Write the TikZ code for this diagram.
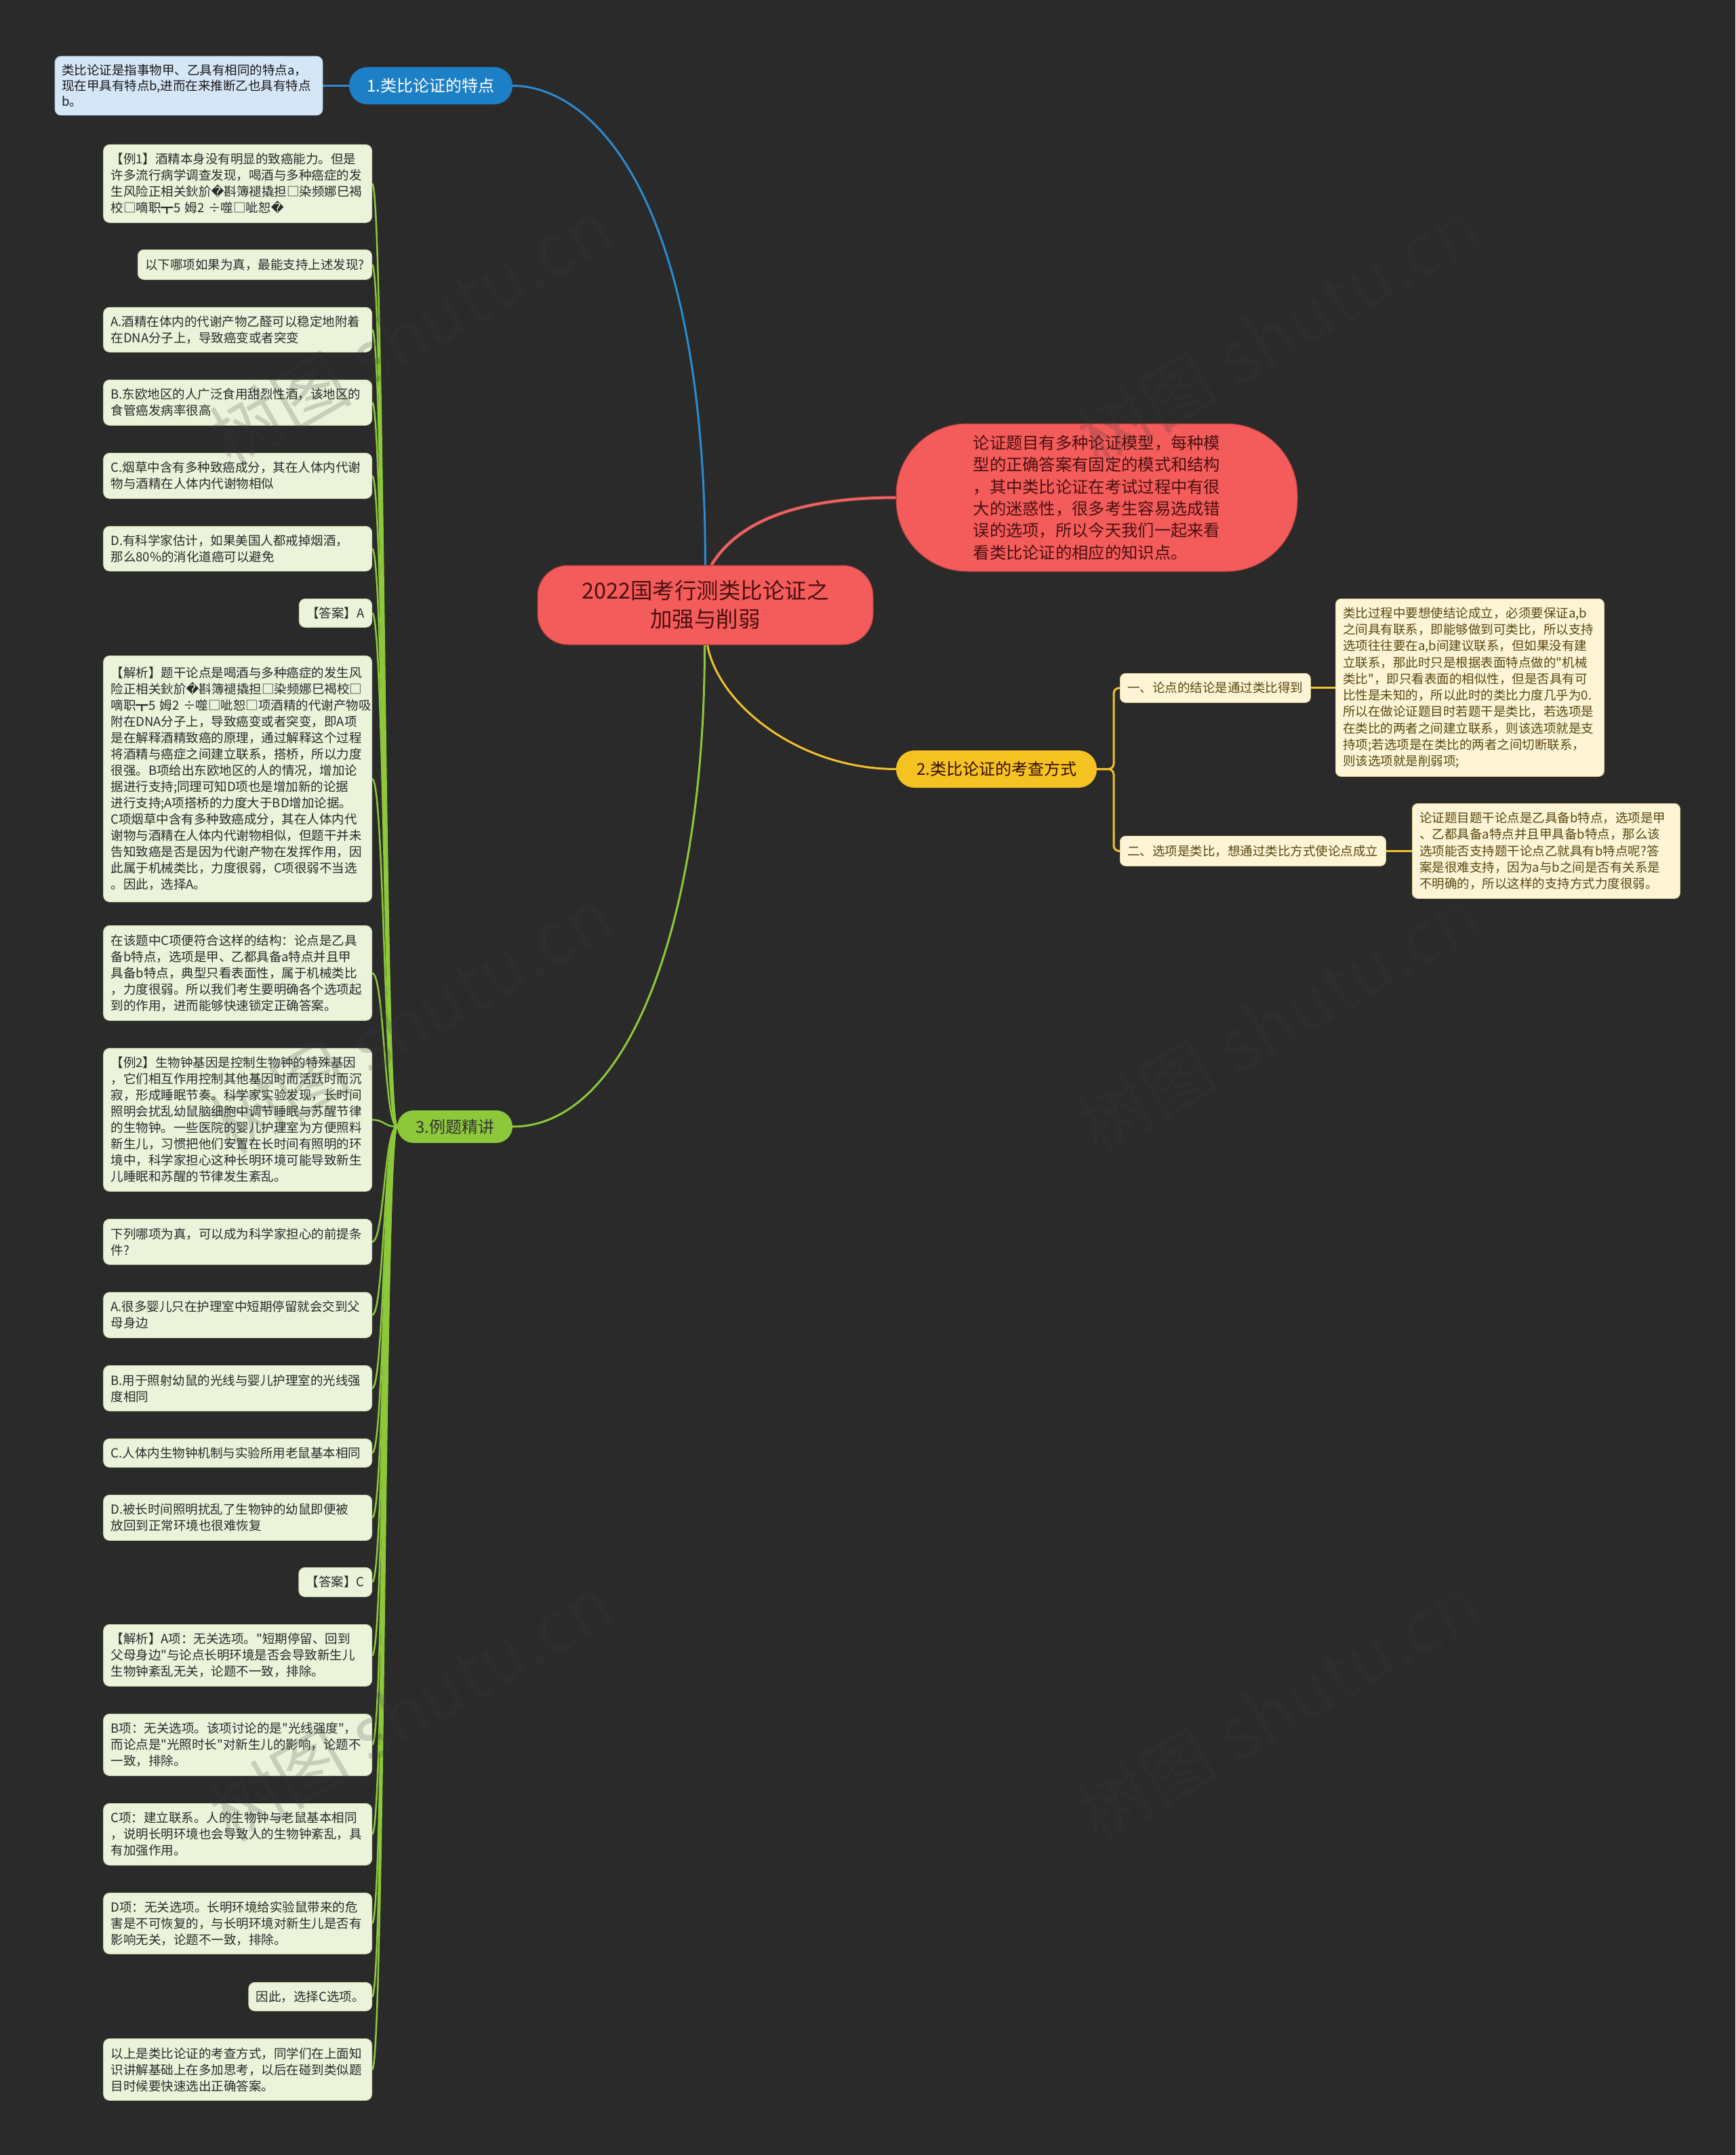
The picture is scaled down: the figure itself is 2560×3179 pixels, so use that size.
\documentclass[tikz,border=0pt]{standalone}
\usepackage{fontspec}
\setmainfont{Noto Sans CJK SC}[Ligatures=TeXOff]
\newfontfamily\dejavu{DejaVu Sans}
\newcommand\repc{{\dejavu\symbol{"FFFD}}}
\definecolor{bg}{HTML}{2A2A2A}
\definecolor{leaf}{HTML}{EBF3DA}
\definecolor{leafd}{HTML}{C9D8AE}
\definecolor{leaft}{HTML}{2A2A2A}
\definecolor{gcol}{HTML}{8CC83A}
\definecolor{bcol}{HTML}{2B8AD0}
\definecolor{ycol}{HTML}{F2C12E}
\definecolor{rcol}{HTML}{F06A68}
\definecolor{rcold}{HTML}{B84848}
\definecolor{cnode}{HTML}{F45B5B}
\definecolor{cnoded}{HTML}{B43C3C}
\definecolor{ctext}{HTML}{4A1010}
\definecolor{bnode}{HTML}{1D80C6}
\definecolor{ynode}{HTML}{F4C322}
\definecolor{gnode}{HTML}{8DC83B}
\definecolor{ybox}{HTML}{FDF5D6}
\definecolor{yboxd}{HTML}{E3D196}
\definecolor{ytext}{HTML}{5A4612}
\definecolor{lblue}{HTML}{D5E7F7}
\definecolor{lblued}{HTML}{A8C8E6}
\definecolor{wmc}{HTML}{3A3A3A}
\pgfdeclarelayer{bgfill}
\pgfdeclarelayer{background}
\pgfsetlayers{bgfill,background,main}
\tikzset{
  leafbox/.style={fill=leaf, draw=leafd, line width=0.8pt, rounded corners=9pt, text=leaft,
    font={\fontsize{18.5}{24}\selectfont}, inner xsep=11pt, inner ysep=0pt, align=left, anchor=north east},
  wideleaf/.style={leafbox, text width=374pt},
  ybranch/.style={fill=ybox, draw=yboxd, line width=0.8pt, rounded corners=8pt, text=ytext,
    font={\fontsize{18.5}{24.3}\selectfont}, inner xsep=11pt, inner ysep=0pt, align=left, anchor=north west},
  topic/.style={rounded corners=27pt, inner sep=0pt, font={\fontsize{24}{28}\selectfont}},
  bl/.style={draw=bcol, line width=3pt},
  yl/.style={draw=ycol, line width=3pt},
  gl/.style={draw=gcol, line width=3pt},
  gleaf/.style={draw=gcol, line width=2.5pt},
  wm/.style={text=wmc, text opacity=0.2, font={\fontsize{105}{105}\selectfont}, inner sep=0pt, anchor=base west, rotate=30}
}
\begin{document}
\begin{tikzpicture}[x=1pt, y=-1pt]
\useasboundingbox (0,0) rectangle (2560,3179);
\begin{pgfonlayer}{bgfill}
\fill[bg] (0,0) rectangle (2560,3179);
\end{pgfonlayer}

% main nodes
\node[fill=cnode, draw=cnoded, line width=1pt, rounded corners=45pt, minimum width=495pt, minimum height=117pt,
  text=ctext, align=center, font={\fontsize{32.5}{42}\selectfont}] (c) at (1040.5,892.5)
  {2022国考行测类比论证之\\加强与削弱};
\node[fill=cnode, draw=cnoded, line width=1pt, rounded corners=105pt, minimum width=592pt, minimum height=218pt,
  text=ctext, align=left, font={\fontsize{24.3}{32.4}\selectfont}] (note) at (1618,734)
  {论证题目有多种论证模型，每种模\\型的正确答案有固定的模式和结构\\，其中类比论证在考试过程中有很\\大的迷惑性，很多考生容易选成错\\误的选项，所以今天我们一起来看\\看类比论证的相应的知识点。};
\node[topic, fill=bnode, text=white, minimum width=241pt, minimum height=55pt] (t1) at (635.5,126.5) {1.类比论证的特点};
\node[topic, fill=ynode, text=ctext!70!black, minimum width=296pt, minimum height=55pt] (t2) at (1470,1134.5) {2.类比论证的考查方式};
\node[topic, fill=gnode, text=black!80, rounded corners=24pt, minimum width=170pt, minimum height=48pt] (t3) at (671,1662) {3.例题精讲};

\node[fill=lblue, draw=lblued, line width=0.8pt, rounded corners=9pt, text=black!90, text width=375pt, inner xsep=10pt,
  inner ysep=0pt, minimum height=87pt, align=left, font={\fontsize{18.5}{23}\selectfont}] (def) at (278.5,126.5)
  {类比论证是指事物甲、乙具有相同的特点a，\\现在甲具有特点b,进而在来推断乙也具有特点\\b。};

% branch 2 children
\node[ybranch, minimum height=43pt] (y1) at (1652,993) {一、论点的结论是通过类比得到};
\node[ybranch, minimum height=44pt] (y2) at (1652,1233) {二、选项是类比，想通过类比方式使论点成立};
\node[ybranch, text width=374pt, minimum height=262pt] (yt1) at (1970,883)
  {类比过程中要想使结论成立，必须要保证a,b\\之间具有联系，即能够做到可类比，所以支持\\选项往往要在a,b间建议联系，但如果没有建\\立联系，那此时只是根据表面特点做的"机械\\类比"，即只看表面的相似性，但是否具有可\\比性是未知的，所以此时的类比力度几乎为0.\\所以在做论证题目时若题干是类比，若选项是\\在类比的两者之间建立联系，则该选项就是支\\持项;若选项是在类比的两者之间切断联系，\\则该选项就是削弱项;};
\node[ybranch, text width=373pt, minimum height=140pt] (yt2) at (2083,1185)
  {论证题目题干论点是乙具备b特点，选项是甲\\、乙都具备a特点并且甲具备b特点，那么该\\选项能否支持题干论点乙就具有b特点呢?答\\案是很难支持，因为a与b之间是否有关系是\\不明确的，所以这样的支持方式力度很弱。};

% branch 3 leaves
\node[wideleaf, minimum height=115pt] (l1) at (549,213)
  {【例1】酒精本身没有明显的致癌能力。但是\\许多流行病学调查发现，喝酒与多种癌症的发\\生风险正相关鈥斺\repc 斟簿褪撬担□染频娜巳褐\\校□嘀职┳5~姆2~÷噬□呲恕\repc};
\node[leafbox, minimum height=44pt] (l2) at (549,368) {以下哪项如果为真，最能支持上述发现?};
\node[wideleaf, minimum height=66pt] (l3) at (549,453) {A.酒精在体内的代谢产物乙醛可以稳定地附着\\在DNA分子上，导致癌变或者突变};
\node[wideleaf, minimum height=67pt] (l4) at (549,560) {B.东欧地区的人广泛食用甜烈性酒，该地区的\\食管癌发病率很高};
\node[wideleaf, minimum height=67pt] (l5) at (549,668) {C.烟草中含有多种致癌成分，其在人体内代谢\\物与酒精在人体内代谢物相似};
\node[wideleaf, minimum height=66pt] (l6) at (549,776) {D.有科学家估计，如果美国人都戒掉烟酒，\\那么80\%的消化道癌可以避免};
\node[leafbox, minimum height=42pt] (l7) at (549,883) {【答案】A};
\node[wideleaf, minimum height=363pt] (l8) at (549,967)
  {【解析】题干论点是喝酒与多种癌症的发生风\\险正相关鈥斺\repc 斟簿褪撬担□染频娜巳褐校□\\嘀职┳5~姆2~÷噬□呲恕□项酒精的代谢产物吸\\附在DNA分子上，导致癌变或者突变，即A项\\是在解释酒精致癌的原理，通过解释这个过程\\将酒精与癌症之间建立联系，搭桥，所以力度\\很强。B项给出东欧地区的人的情况，增加论\\据进行支持;同理可知D项也是增加新的论据\\进行支持;A项搭桥的力度大于BD增加论据。\\C项烟草中含有多种致癌成分，其在人体内代\\谢物与酒精在人体内代谢物相似，但题干并未\\告知致癌是否是因为代谢产物在发挥作用，因\\此属于机械类比，力度很弱，C项很弱不当选\\。因此，选择A。};
\node[wideleaf, minimum height=140pt] (l9) at (549,1365)
  {在该题中C项便符合这样的结构：论点是乙具\\备b特点，选项是甲、乙都具备a特点并且甲\\具备b特点，典型只看表面性，属于机械类比\\，力度很弱。所以我们考生要明确各个选项起\\到的作用，进而能够快速锁定正确答案。};
\node[wideleaf, minimum height=211pt] (l10) at (549,1546)
  {【例2】生物钟基因是控制生物钟的特殊基因\\，它们相互作用控制其他基因时而活跃时而沉\\寂，形成睡眠节奏。科学家实验发现，长时间\\照明会扰乱幼鼠脑细胞中调节睡眠与苏醒节律\\的生物钟。一些医院的婴儿护理室为方便照料\\新生儿，习惯把他们安置在长时间有照明的环\\境中，科学家担心这种长明环境可能导致新生\\儿睡眠和苏醒的节律发生紊乱。};
\node[wideleaf, minimum height=67pt] (l11) at (549,1798) {下列哪项为真，可以成为科学家担心的前提条\\件?};
\node[wideleaf, minimum height=67pt] (l12) at (549,1906) {A.很多婴儿只在护理室中短期停留就会交到父\\母身边};
\node[wideleaf, minimum height=67pt] (l13) at (549,2014) {B.用于照射幼鼠的光线与婴儿护理室的光线强\\度相同};
\node[wideleaf, minimum height=42pt] (l14) at (549,2122) {C.人体内生物钟机制与实验所用老鼠基本相同};
\node[wideleaf, minimum height=67pt] (l15) at (549,2205) {D.被长时间照明扰乱了生物钟的幼鼠即便被\\放回到正常环境也很难恢复};
\node[leafbox, minimum height=43pt] (l16) at (549,2312) {【答案】C};
\node[wideleaf, minimum height=91pt] (l17) at (549,2396)
  {【解析】A项：无关选项。"短期停留、回到\\父母身边"与论点长明环境是否会导致新生儿\\生物钟紊乱无关，论题不一致，排除。};
\node[wideleaf, minimum height=91pt] (l18) at (549,2528)
  {B项：无关选项。该项讨论的是"光线强度"，\\而论点是"光照时长"对新生儿的影响，论题不\\一致，排除。};
\node[wideleaf, minimum height=91pt] (l19) at (549,2660)
  {C项：建立联系。人的生物钟与老鼠基本相同\\，说明长明环境也会导致人的生物钟紊乱，具\\有加强作用。};
\node[wideleaf, minimum height=90pt] (l20) at (549,2792)
  {D项：无关选项。长明环境给实验鼠带来的危\\害是不可恢复的，与长明环境对新生儿是否有\\影响无关，论题不一致，排除。};
\node[leafbox, minimum height=42pt] (l21) at (549,2924) {因此，选择C选项。};
\node[wideleaf, minimum height=91pt] (l22) at (549,3007)
  {以上是类比论证的考查方式，同学们在上面知\\识讲解基础上在多加思考，以后在碰到类似题\\目时候要快速选出正确答案。};

% connectors (behind nodes)
\begin{pgfonlayer}{background}
\draw[bl] (t1.west) -- (def.east);
\draw[bl] (c.north) .. controls (1040,280) and (870,126.5) .. (t1.east);
\draw[draw=rcold, line width=5pt] ([xshift=9pt]c.north) .. controls (1090,767) and (1181,734) .. (note.west);
\draw[draw=rcol, line width=2.6pt] ([xshift=9pt]c.north) .. controls (1090,767) and (1181,734) .. (note.west);
\draw[yl] ([xshift=3pt]c.south) .. controls (1060,1040) and (1180,1134.5) .. (t2.west);
\draw[gl] ([xshift=-1pt]c.south) .. controls (1040,1350) and (930,1662) .. (t3.east);
\draw[yl, rounded corners=8pt] (t2.east) -- (1643,1134.5) |- (y1.west);
\draw[yl, rounded corners=8pt] (t2.east) -- (1643,1134.5) |- (y2.west);
\draw[yl] (y1.east) -- (y1.east -| yt1.west);
\draw[yl] (y2.east) -- (y2.east -| yt2.west);
\foreach \n in {l1,l2,l3,l4,l5,l6,l7,l8,l9,l10,l11,l12,l13,l14,l15,l16,l17,l18,l19,l20,l21,l22}
  \draw[gleaf] (t3.west) .. controls +(-19,0) and +(18,0) .. (\n.east);
\end{pgfonlayer}

% watermarks
\foreach \x/\y in {340/690, 1620/690, 340/1705, 1620/1705, 340/2720, 1620/2720}{
  \node[wm] at (\x,\y) {树图};
  \node[wm] at ({\x+204},{\y-118}) {shutu.cn};
}
\end{tikzpicture}
\end{document}
